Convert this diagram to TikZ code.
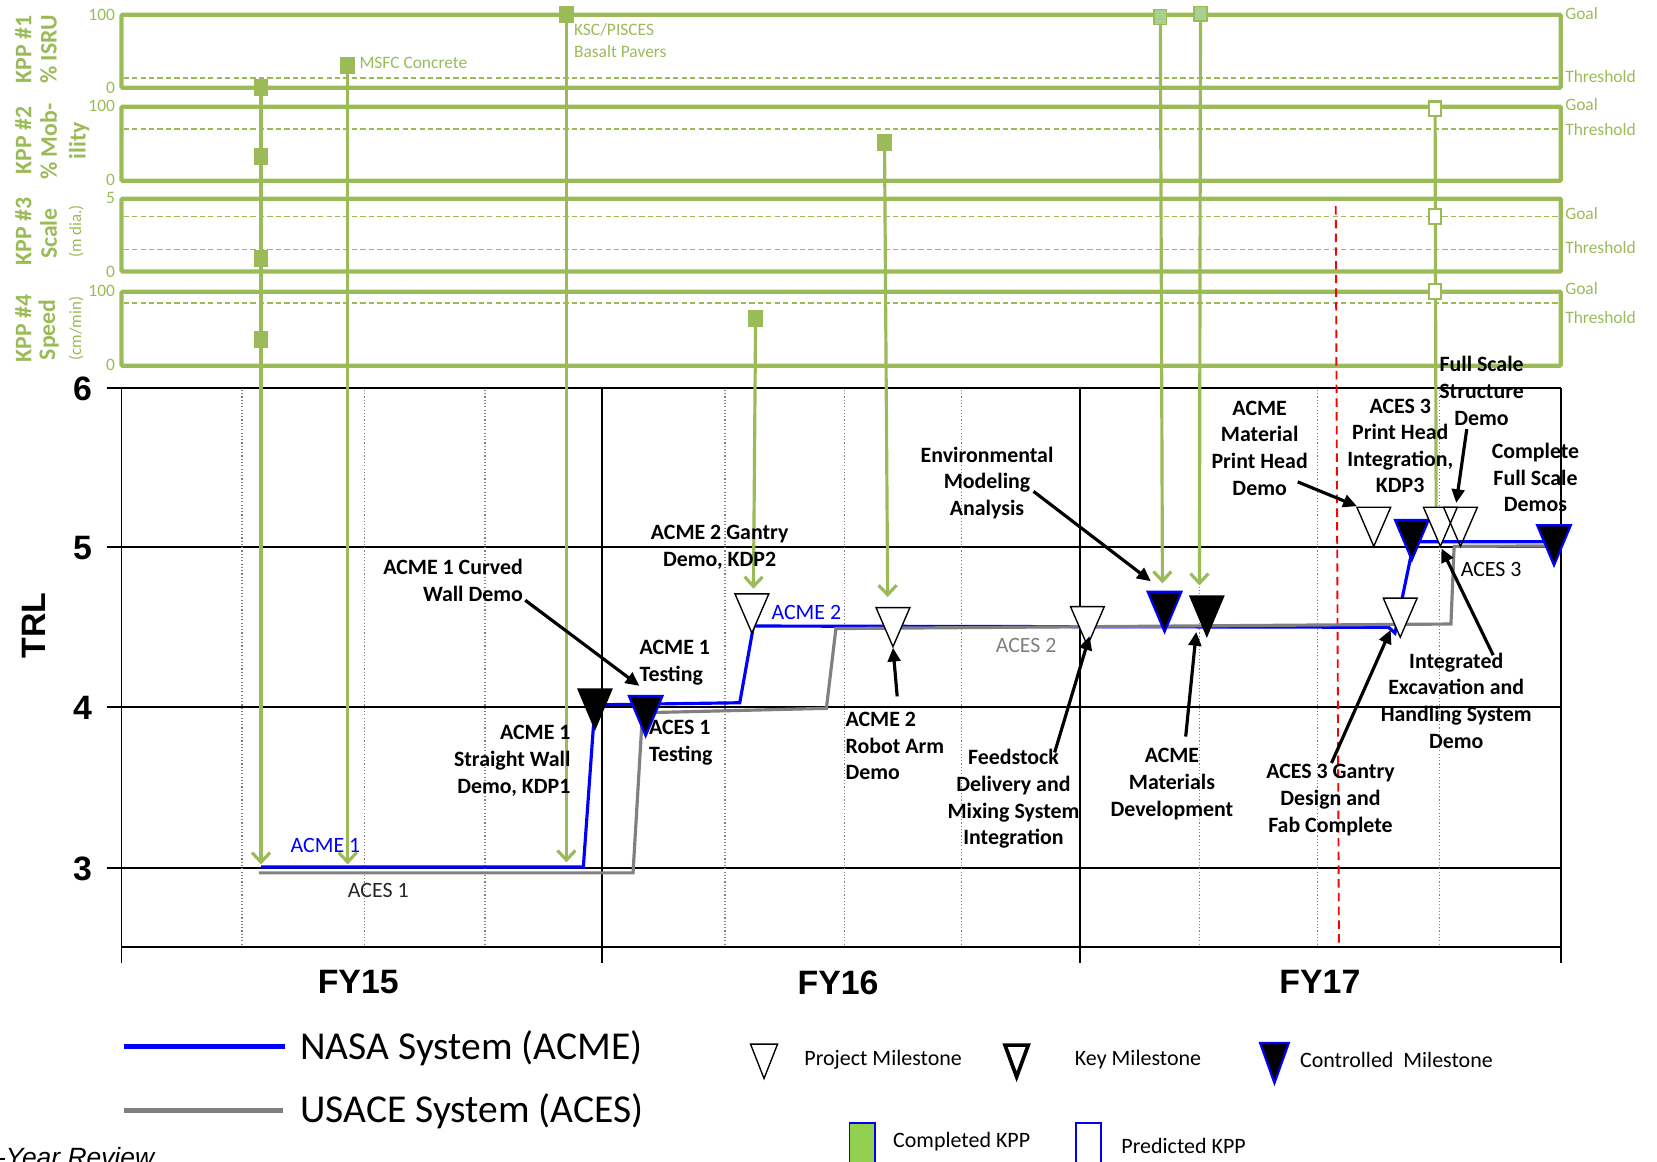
\documentclass[tikz,border=0pt]{standalone}
\usepackage{fontspec}
\setmainfont{Carlito}
\newfontfamily\arialf{Liberation Sans}
\usetikzlibrary{arrows.meta}
\definecolor{kgreen}{HTML}{9BBB59}
\definecolor{kgreenl}{HTML}{A9D08E}
\definecolor{cgreen}{HTML}{92D050}
\definecolor{acmeblue}{HTML}{0000FF}
\definecolor{acesgray}{HTML}{808080}
\definecolor{redl}{HTML}{FF0000}
\tikzset{
  kbox/.style={draw=kgreen, line width=4pt, rounded corners=1pt},
  kdash/.style={draw=kgreen, line width=1.6pt, dash pattern=on 5pt off 3pt},
  knum/.style={text=kgreen, font=\fontsize{16.5}{18}\selectfont, inner sep=0pt, anchor=east},
  kside/.style={text=kgreen, font=\fontsize{16.5}{18}\selectfont, inner sep=0pt, anchor=west},
  krot/.style={text=kgreen, font=\bfseries\fontsize{22.5}{24}\selectfont, rotate=90, inner sep=0pt},
  kunit/.style={text=kgreen, font=\fontsize{16}{18}\selectfont, rotate=90, inner sep=0pt},
  ksq/.style={fill=kgreen, minimum width=14pt, minimum height=16pt, inner sep=0pt},
  ksqlt/.style={fill=kgreenl, draw=kgreen, line width=1.5pt, minimum width=12pt, minimum height=14pt, inner sep=0pt},
  ksqop/.style={fill=white, draw=kgreen, line width=2pt, minimum width=12pt, minimum height=14pt, inner sep=0pt},
  kdrop/.style={draw=kgreen, line width=3pt, -{Straight Barb[length=9pt,width=17pt]}},
  kstem/.style={draw=kgreen, line width=3pt},
  gridl/.style={draw=black, line width=1.8pt},
  dotl/.style={draw=gray, line width=1.1pt, dotted},
  trlnum/.style={font=\arialf\bfseries\fontsize{32}{34}\selectfont, inner sep=0pt},
  acmel/.style={draw=acmeblue, line width=3pt},
  acesl/.style={draw=acesgray, line width=3pt},
  blkarr/.style={draw=black, line width=3pt, -{Triangle[length=13pt,width=12pt]}},
  mlabel/.style={font=\bfseries\fontsize{20.7}{25.2}\selectfont, inner sep=0pt, align=center},
  llabel/.style={font=\fontsize{20.7}{24}\selectfont, inner sep=0pt},
  legtext/.style={font=\fontsize{20.8}{23}\selectfont, inner sep=0pt, anchor=west},
  legbig/.style={font=\fontsize{37.4}{40}\selectfont, inner sep=0pt, anchor=west},
  pmile/.pic={\draw[black, line width=1.3pt, fill=white] (-16,0) -- (16,0) -- (0,37) -- cycle;},
  pmileo/.pic={\draw[black, line width=1.3pt] (-16,0) -- (16,0) -- (0,37) -- cycle;},
  kmile/.pic={\draw[black, line width=1.3pt, fill=black] (-16,0) -- (16,0) -- (0,38) -- cycle;},
  cmile/.pic={\draw[acmeblue, line width=2pt, fill=black] (-16,0) -- (16,0) -- (0,38) -- cycle;},
  kleg/.pic={\draw[black, line width=3.5pt, fill=white] (-11,0) -- (11,0) -- (0,30) -- cycle;},
}
\begin{document}
\begin{tikzpicture}[x=1pt,y=-1pt]
\useasboundingbox (0,0) rectangle (1568,1099);
% ---------------- KPP panels
\draw[kbox] (115,14) rectangle (1477,83);
\draw[kbox] (115,101) rectangle (1477,171);
\draw[kbox] (115,188) rectangle (1477,257);
\draw[kbox] (115,276) rectangle (1477,346);
\foreach \y in {74,122,205,236,287} \draw[kdash] (117,\y) -- (1475,\y);
\node[knum] (n1t) at (109,14) {100};
\node[knum] (n1b) at (109,83) {0};
\node[knum] (n2t) at (109,100) {100};
\node[knum] (n2b) at (109,170) {0};
\node[knum] (n3t) at (109,187) {5};
\node[knum] (n3b) at (109,257) {0};
\node[knum] (n4t) at (109,275) {100};
\node[knum] (n4b) at (109,345) {0};
\node[kside] (g1) at (1481,13) {Goal};
\node[kside] (h1) at (1481,72) {Threshold};
\node[kside] (g2) at (1481,99) {Goal};
\node[kside] (h2) at (1481,123) {Threshold};
\node[kside] (g3) at (1481,202) {Goal};
\node[kside] (h3) at (1481,234) {Threshold};
\node[kside] (g4) at (1481,273) {Goal};
\node[kside] (h4) at (1481,300) {Threshold};
\node[krot] (k1a) at (22,47) {KPP \#1};
\node[krot] (k1b) at (46,47) {\% ISRU};
\node[krot] (k2a) at (22,133) {KPP \#2};
\node[krot] (k2b) at (46,134) {\% Mob-};
\node[krot] (k2c) at (75,133) {ility};
\node[krot] (k3a) at (22,219) {KPP \#3};
\node[krot] (k3b) at (46,221) {Scale};
\node[kunit] (k3c) at (72,219) {(m dia.)};
\node[krot] (k4a) at (22,311) {KPP \#4};
\node[krot] (k4b) at (46,312) {Speed};
\node[kunit] (k4c) at (72,311) {(cm/min)};
\node[kside] (msfc) at (340,60) {MSFC Concrete};
\node[kside, align=left, font=\fontsize{16.5}{21}\selectfont] (ksc) at (543,38) {KSC/PISCES\\Basalt Pavers};
% ---------------- TRL grid
\foreach \y in {367,518,669,821} \draw[gridl] (101,\y) -- (1477,\y);
\draw[gridl] (115,896) -- (1477,896);
\foreach \x in {115,570,1022,1477} \draw[gridl] (\x,367) -- (\x,911);
\foreach \x in {229,345,459,686,799,910,1135,1247,1362} \draw[dotl] (\x,369) -- (\x,895);
\node[trlnum] (t6) at (78,368) {6};
\node[trlnum] (t5) at (78,519) {5};
\node[trlnum] (t4) at (78,670) {4};
\node[trlnum] (t3) at (78,822) {3};
\node[trlnum, rotate=90] (trl) at (32,592) {TRL};
\node[trlnum] (fy15) at (339,929) {FY15};
\node[trlnum] (fy16) at (793,930) {FY16};
\node[trlnum] (fy17) at (1249,929) {FY17};
\draw[redl, line width=1.8pt, dash pattern=on 8pt off 5pt] (1264,195) -- (1267,896);
% ---------------- system lines
\draw[acmel] (247,820.5) -- (552,820.5) -- (563,667) -- (700,665) -- (713,592.4) -- (1314,593.6) -- (1320,599) -- (1336,522) -- (1341,512.6) -- (1470,512.6);
\draw[acesl] (245,826) -- (599,826) -- (608,674.5) -- (782,670.3) -- (791,594.8) -- (1373,590.5) -- (1376,517) -- (1470,516.6);
\node[llabel, text=acmeblue] (lacme1) at (308,800) {ACME 1};
\node[llabel, text=black!85] (laces1) at (358,843) {ACES 1};
\node[llabel, text=acmeblue] (lacme2) at (763,580) {ACME 2};
\node[llabel, text=acesgray] (laces2) at (971,611) {ACES 2};
\node[llabel, text=black] (laces3) at (1411,539) {ACES 3};
% ---------------- KPP drop lines
\coordinate (c1) at (247,83);   \coordinate (e1) at (247,818);
\coordinate (c2) at (329,62);   \coordinate (e2) at (329,818);
\coordinate (c3) at (536,14);   \coordinate (e3) at (536,816);
\coordinate (c4) at (715,301);  \coordinate (e4) at (713,557);
\coordinate (c5) at (837,135);  \coordinate (e5) at (840,565);
\coordinate (c6) at (1098,16);  \coordinate (e6) at (1100,552);
\coordinate (c7) at (1136,13);  \coordinate (e7) at (1135,554);
\coordinate (c8) at (1358,103); \coordinate (e8) at (1359,480);
\draw[kdrop] (c1) -- (e1);
\draw[kdrop] (c2) -- (e2);
\draw[kdrop] (c3) -- (e3);
\draw[kdrop] (c4) -- (e4);
\draw[kdrop] (c5) -- (e5);
\draw[kdrop] (c6) -- (e6);
\draw[kdrop] (c7) -- (e7);
\draw[kstem] (c8) -- (e8);
\node[ksq] (s1a) at (c1) {};
\node[ksq] (s1b) at (247,148) {};
\node[ksq] (s1c) at (247,245) {};
\node[ksq] (s1d) at (247,321) {};
\node[ksq] (s2) at (c2) {};
\node[ksq] (s3) at (c3) {};
\node[ksq] (s4) at (c4) {};
\node[ksq] (s5) at (c5) {};
\node[ksqlt] (s6) at (c6) {};
\node[ksqlt] (s7) at (c7) {};
\node[ksqop] (s8a) at (c8) {};
\node[ksqop] (s8b) at (1358,205) {};
\node[ksqop] (s8c) at (1358,276) {};
% ---------------- milestones
\pic at (563,652) {kmile};
\pic at (611,658.5) {cmile};
\pic at (711.5,562) {pmile};
\pic at (845,575) {pmile};
\pic at (1029,574) {pmile};
\pic at (1102,560) {cmile};
\pic at (1142,564) {kmile};
\pic at (1325,566) {pmile};
\pic at (1300,480) {pmile};
\pic at (1336,492) {cmile};
\pic at (1363,480) {pmile};
\pic at (1382,480) {pmileo};
\pic at (1470.5,497) {cmile};
% ---------------- callout arrows
\coordinate (a1s) at (497,568);  \coordinate (a1e) at (605,649);
\coordinate (a2s) at (849,659);  \coordinate (a2e) at (845,613);
\coordinate (a3s) at (998,712);  \coordinate (a3e) at (1031,602);
\coordinate (a4s) at (978,465);  \coordinate (a4e) at (1089,550);
\coordinate (a5s) at (1122,697); \coordinate (a5e) at (1132,598);
\coordinate (a6s) at (1228,456); \coordinate (a6e) at (1284,479);
\coordinate (a7s) at (1260,722); \coordinate (a7e) at (1316,596);
\coordinate (a8s) at (1388,406); \coordinate (a8e) at (1378,476);
\coordinate (a9s) at (1413,620); \coordinate (a9e) at (1364,519);
\foreach \i in {1,...,9} \draw[blkarr] (a\i s) -- (a\i e);
% ---------------- milestone labels
\node[mlabel, align=right, anchor=east] (L1) at (495,549) {ACME 1 Curved\\Wall Demo};
\node[mlabel, align=right, anchor=east] (L2) at (540,720) {ACME 1\\Straight Wall\\Demo, KDP1};
\node[mlabel, align=left, anchor=west] (L3) at (605,627) {ACME 1\\Testing};
\node[mlabel, align=left, anchor=west] (L4) at (614,703) {ACES 1\\Testing};
\node[mlabel] (L5) at (681,518) {ACME 2 Gantry\\Demo, KDP2};
\node[mlabel, align=left, anchor=west] (L6) at (800,706) {ACME 2\\Robot Arm\\Demo};
\node[mlabel] (L7) at (934,457) {Environmental\\Modeling\\Analysis};
\node[mlabel] (L8) at (959,756) {Feedstock\\Delivery and\\Mixing System\\Integration};
\node[mlabel] (L9) at (1109,742) {ACME\\Materials\\Development};
\node[mlabel] (L10) at (1192,424) {ACME\\Material\\Print Head\\Demo};
\node[mlabel] (L11) at (1325,422) {ACES 3\\Print Head\\Integration,\\KDP3};
\node[mlabel] (L12) at (1402,370) {Full Scale\\Structure\\Demo};
\node[mlabel] (L13) at (1453,452) {Complete\\Full Scale\\Demos};
\node[mlabel] (L14) at (1378,663) {Integrated\\Excavation and\\Handling System\\Demo};
\node[mlabel] (L15) at (1259,757) {ACES 3 Gantry\\Design and\\Fab Complete};
% ---------------- legend
\draw[acmel, line width=5pt] (117,990) -- (270,990);
\node[legbig] (lg1) at (284,992) {NASA System (ACME)};
\draw[acesl, line width=5pt] (117,1051) -- (268,1051);
\node[legbig] (lg2) at (284,1052) {USACE System (ACES)};
\pic[xscale=0.8, yscale=0.88] at (723,988) {pmile};
\node[legtext] (lg3) at (761,1003) {Project Milestone};
\pic at (962,989) {kleg};
\node[legtext] (lg4) at (1017,1003) {Key Milestone};
\pic[xscale=0.85] at (1206,987) {cmile};
\node[legtext] (lg5) at (1230,1003) {Controlled\ \ Milestone};
\node[draw=acmeblue, fill=cgreen, line width=1.5pt, minimum width=24pt, minimum height=44pt, inner sep=0pt, anchor=north] (lg6) at (816,1062) {};
\node[legtext] (lg7) at (845,1080) {Completed KPP};
\node[draw=acmeblue, fill=white, line width=1.5pt, minimum width=24pt, minimum height=44pt, inner sep=0pt, anchor=north] (lg8) at (1030,1062) {};
\node[legtext] (lg9) at (1061,1084) {Predicted KPP};
\node[font=\arialf\itshape\fontsize{25}{28}\selectfont, anchor=base west, inner sep=0pt] (yr) at (-3,1104) {-Year Review};
\end{tikzpicture}
\end{document}
